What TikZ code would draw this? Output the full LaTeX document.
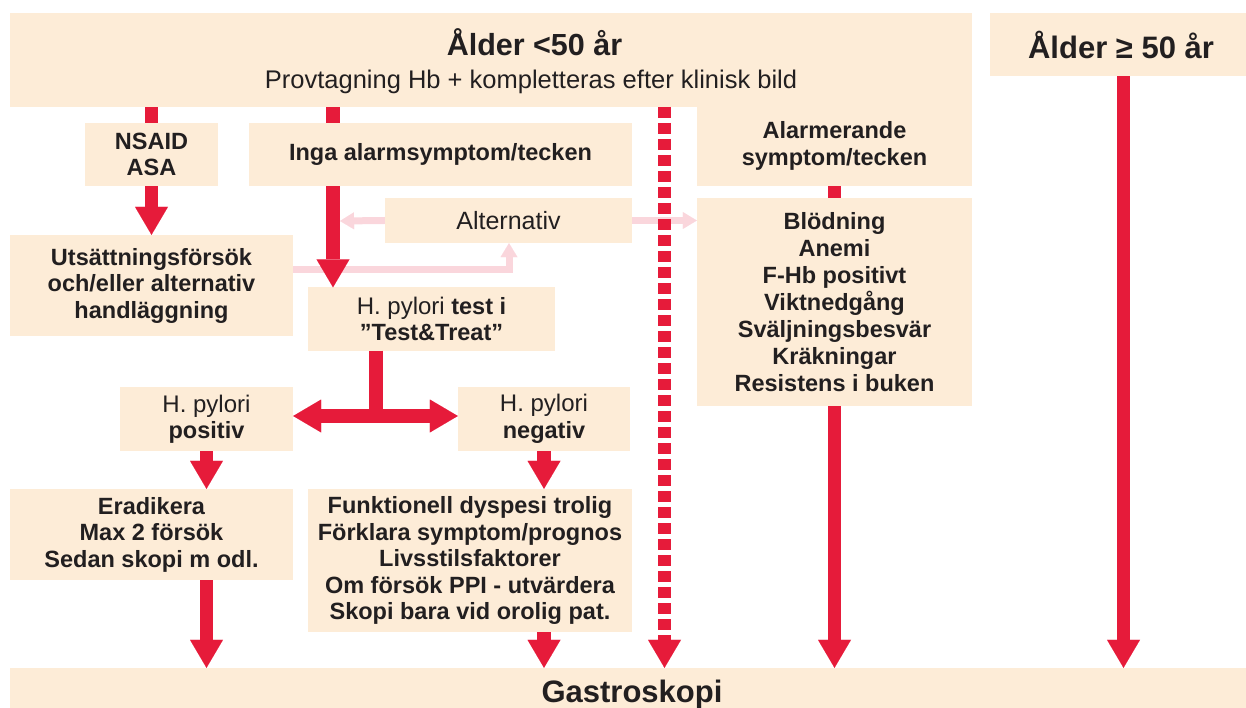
\documentclass[tikz,border=0pt]{standalone}
\usepackage{fontspec}
\setmainfont{Liberation Sans}
\usetikzlibrary{arrows.meta,calc}
\definecolor{beige}{RGB}{253,236,215}
\definecolor{ared}{RGB}{230,27,58}
\definecolor{apink}{RGB}{250,214,220}
\definecolor{txt}{RGB}{34,31,32}
\begin{document}
\begin{tikzpicture}[x=1pt,y=-1pt,
  box/.style={fill=beige, draw=none, inner sep=0pt, align=center, text=txt,
    font=\fontsize{23.5}{26.5}\selectfont\bfseries},
  lbl/.style={inner sep=0pt, text=txt, anchor=base},
  rline/.style={draw=ared, line width=13.5pt},
  rtip/.tip={Triangle[width=33pt,length=28pt,line width=0.01pt]},
  rarrow/.style={rline, -rtip},
  pline/.style={draw=apink, line width=7pt},
  parrow/.style={pline, -{Triangle[width=17pt,length=14pt,line width=0.01pt]}}
]
\useasboundingbox (0,0) rectangle (1246,708);

% boxes
\node[box, minimum width=962pt, minimum height=94pt] (head) at (491,60) {};
\node[box, minimum width=275pt, minimum height=80pt] (alarm) at (834.5,146) {Alarmerande\\symptom/tecken};
\node[box, minimum width=262pt, minimum height=63pt, font=\fontsize{31}{34}\selectfont\bfseries] (age50) at (1121,44.5) {Ålder ≥ 50 år};
\node[box, minimum width=133pt, minimum height=63pt] (nsaid) at (151.5,154.5) {NSAID\\ASA};
\node[box, minimum width=383pt, minimum height=63pt] (inga) at (440.5,154.5) {Inga alarmsymptom/tecken};
\node[box, minimum width=247pt, minimum height=45pt, font=\fontsize{25}{28}\selectfont] (alt) at (508.5,220.5) {Alternativ};
\node[box, minimum width=283pt, minimum height=101pt] (uts) at (151.5,285.5) {Utsättningsförsök\\och/eller alternativ\\handläggning};
\node[box, minimum width=247pt, minimum height=63pt] (test) at (431.5,319) {{\mdseries\fontsize{24}{26.5}\selectfont H. pylori} test i\\”Test\&Treat”};
\node[box, minimum width=173pt, minimum height=64pt] (pos) at (206.5,419) {{\mdseries\fontsize{24}{26.5}\selectfont H. pylori}\\positiv};
\node[box, minimum width=172pt, minimum height=64pt] (neg) at (544,419) {{\mdseries\fontsize{24}{26.5}\selectfont H. pylori}\\negativ};
\node[box, minimum width=283pt, minimum height=91pt] (erad) at (151.5,534.5) {Eradikera\\Max 2 försök\\Sedan skopi m odl.};
\node[box, minimum width=324pt, minimum height=143pt] (funk) at (470,560.5) {Funktionell dyspesi trolig\\Förklara symptom/prognos\\Livsstilsfaktorer\\Om försök PPI - utvärdera\\Skopi bara vid orolig pat.};
\node[box, minimum width=275pt, minimum height=208pt, font=\fontsize{23.5}{27}\selectfont\bfseries] (bled) at (834.5,302) {Blödning\\Anemi\\F-Hb positivt\\Viktnedgång\\Sväljningsbesvär\\Kräkningar\\Resistens i buken};
\node[box, minimum width=1244pt, minimum height=52pt, font=\fontsize{31}{34}\selectfont\bfseries] (gastro) at (632,694) {Gastroskopi};

% header texts
\node[lbl, font=\fontsize{30.5}{34}\selectfont\bfseries] (t1) at (534.5,56) {Ålder <50 år};
\node[lbl, font=\fontsize{25.5}{28}\selectfont] (t2) at (531,89) {Provtagning Hb + kompletteras efter klinisk bild};

% helper coordinates
\coordinate (xI) at (333,0);
\coordinate (xS) at (376,416);
\coordinate (xD) at (664.5,107);
\coordinate (xA) at (1123.5,0);
\coordinate (pc) at (509,270);
\coordinate (pl) at (340,221);

% pink connectors
\draw[parrow] (alt.west) -- (pl);
\draw[parrow] (alt.east) -- (bled.west |- alt.east);
\draw[parrow] (uts.east |- pc) -- (pc) -- (alt.south -| pc);

% red connectors
\draw[rline] (head.south -| nsaid.north) -- (nsaid.north);
\draw[rline] (head.south -| xI) -- (inga.north -| xI);
\draw[rline] (alarm.south) -- (bled.north);
\draw[rarrow] (nsaid.south) -- (uts.north);
\draw[rarrow] (inga.south -| xI) -- (test.north -| xI);
\draw[rline] (test.south -| xS) -- (xS);
\draw[rline, rtip-rtip] (pos.east |- xS) -- (neg.west |- xS);
\draw[rarrow] (pos.south) -- (erad.north -| pos.south);
\draw[rarrow] (neg.south) -- (funk.north -| neg.south);
\draw[rarrow] (erad.south -| pos.south) -- (gastro.north -| pos.south);
\draw[rarrow] (funk.south -| neg.south) -- (gastro.north -| neg.south);
\draw[rarrow] (bled.south) -- (gastro.north -| bled.south);
\draw[rarrow] (age50.south -| xA) -- (gastro.north -| xA);
\draw[rarrow, dash pattern=on 11pt off 5pt] (xD) -- (gastro.north -| xD);
\end{tikzpicture}
\end{document}
